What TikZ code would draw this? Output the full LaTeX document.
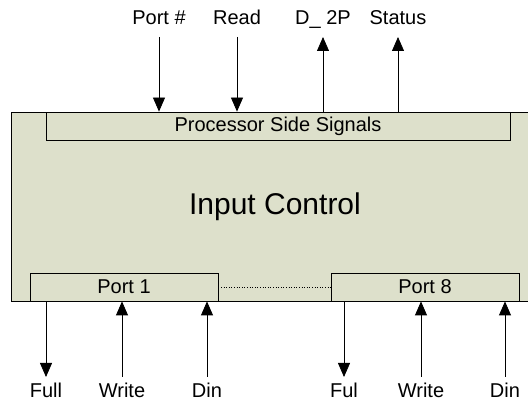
\documentclass[tikz,border=0pt]{standalone}
\usepackage{fontspec}
\setmainfont{Liberation Sans}
\usetikzlibrary{positioning, arrows.meta, shadows}
\definecolor{cPanel}{HTML}{DDE0CB}
\definecolor{cShade}{HTML}{8C8C8C}

\begin{document}
\begin{tikzpicture}[x=1pt, y=-1pt,
    box/.style={draw=black, fill=cPanel, line width=0.8pt, inner sep=0pt},
    subbox/.style={box, minimum height=28pt, font=\fontsize{20}{24}\selectfont,
      drop shadow={shadow xshift=1.2pt, shadow yshift=-1.2pt, fill=cShade, opacity=1}},
    lbl/.style={anchor=base, inner sep=0pt, font=\fontsize{20}{24}\selectfont},
    sig/.style={-{Triangle[width=12pt, length=14pt]}, line width=0.8pt}]
  \useasboundingbox (0,0) rectangle (528,406);
  \node[box, minimum width=528pt, minimum height=189pt,
        font=\fontsize{30}{36}\selectfont] (ic) at (275,206.5) {Input Control};
  \node[subbox, minimum width=464pt] (psig) at (278,126) {Processor Side Signals};
  \node[subbox, minimum width=188pt] (p1) at (124,287) {Port 1};
  \node[subbox, minimum width=188pt] (p8) at (425,287) {Port 8};
  \draw[dotted, line width=0.6pt] (p1.east) -- (p8.west);
  % processor side
  \foreach \x/\nm/\txt in {159/pnum/Port \#, 237/rd/Read}{
    \node[lbl] (\nm) at (\x,25) {\txt};
    \draw[sig] ([yshift=-12pt]\nm.base) -- (\nm.base |- psig.north);
  }
  \foreach \x/\nm/\txt in {323/dtp/D\_ 2P, 398/st/Status}{
    \node[lbl] (\nm) at (\x,25) {\txt};
    \draw[sig] (\nm.base |- psig.north) -- ([yshift=-12pt]\nm.base);
  }
  % port side
  \foreach \x/\nm/\txt/\port in {46/fa/Full/p1, 344/fb/Ful/p8}{
    \node[lbl] (\nm) at (\x,397) {\txt};
    \draw[sig] (\nm.base |- \port.south) -- ([yshift=20pt]\nm.base);
  }
  \foreach \x/\nm/\txt/\port in {122/wa/Write/p1, 207/da/Din/p1, 421/wb/Write/p8, 505/db/Din/p8}{
    \node[lbl] (\nm) at (\x,397) {\txt};
    \draw[sig] ([yshift=20pt]\nm.base) -- (\nm.base |- \port.south);
  }
\end{tikzpicture}
\end{document}
